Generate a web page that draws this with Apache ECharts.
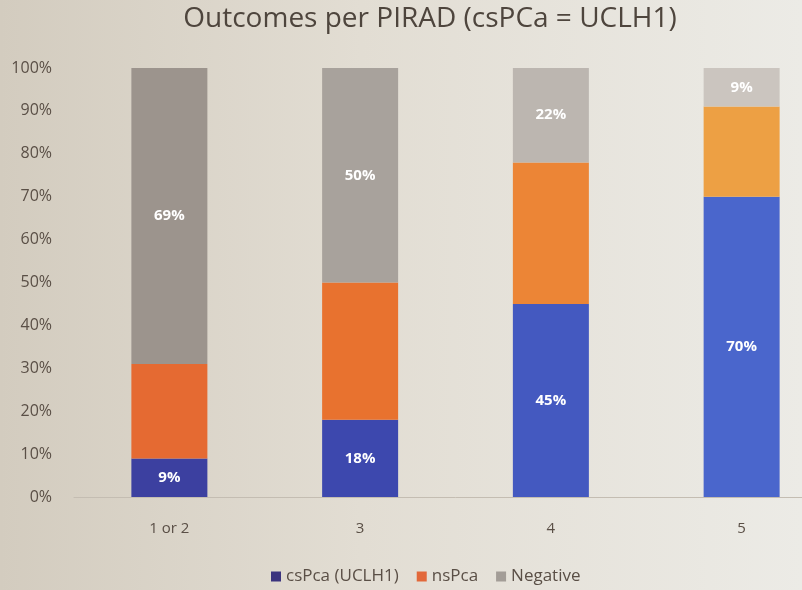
<!DOCTYPE html>
<html>
<head>
<meta charset="utf-8">
<script src="https://cdn.jsdelivr.net/npm/echarts@6/dist/echarts.min.js"></script>
<style>
  html, body { margin: 0; padding: 0; overflow: hidden; }
  body {
    width: 802px; height: 590px;
    background: linear-gradient(90deg, #d3ccbf 0%, #e2ddd3 45%, #ecebe6 100%);
  }
  /* the photo crops the slide on the right, so the chart is wider than the window */
  #chart { width: 840px; height: 590px; }
</style>
</head>
<body>
<div id="chart"></div>
<script>
// PIRAD groups
const categories = ['1 or 2', '3', '4', '5']
// percentages per outcome
const csPca = [9, 18, 45, 70]
const nsPca = [22, 32, 33, 21]
const negative = [69, 50, 22, 9]

// lighting in the photo: bars get lighter to the right
const blueShades = ['#3c40a0', '#3d48ae', '#4459c0', '#4a66cc']
const orangeShades = ['#e56a32', '#e8722f', '#ec8536', '#eda044']
const grayShades = ['#9c948d', '#a8a29c', '#bcb6b0', '#cbc5bf']

const chart = echarts.init(document.getElementById('chart'))

const labelOpt = {
  show: true,
  color: '#fff',
  fontWeight: 'bold',
  fontSize: 15,
  fontFamily: 'Open Sans',
  formatter: p => p.value + '%'
}

const option = {
  textStyle: { fontFamily: 'Open Sans', color: '#5a4f46' },
  title: {
    text: 'Outcomes per PIRAD (csPCa = UCLH1)',
    left: 425,
    textAlign: 'center',
    top: 0,
    textStyle: { fontSize: 28, fontWeight: 'normal', color: '#4e453d', fontFamily: 'Open Sans' }
  },
  legend: {
    bottom: 0,
    left: 266,
    itemWidth: 10,
    itemHeight: 10,
    itemGap: 18,
    icon: 'rect',
    textStyle: { fontSize: 17, color: '#5a4f46' },
    data: ['csPca (UCLH1)', 'nsPca', 'Negative']
  },
  grid: {
    left: 74,
    right: 3,
    top: 68,
    bottom: 93
  },
  xAxis: {
    type: 'category',
    data: categories,
    axisTick: { show: false },
    axisLine: { lineStyle: { color: '#c4bdb2' } },
    axisLabel: { fontSize: 15, color: '#5a4f46', margin: 24 }
  },
  yAxis: {
    type: 'value',
    min: 0,
    max: 100,
    interval: 10,
    splitLine: { show: false },
    axisLabel: { formatter: '{value}%', fontSize: 16, color: '#5a4f46', margin: 22 }
  },
  series: [
    {
      name: 'csPca (UCLH1)',
      type: 'bar',
      stack: 'total',
      barWidth: 76,
      itemStyle: { color: '#3b337e' },
      label: labelOpt,
      data: csPca.map((v, i) => ({ value: v, itemStyle: { color: blueShades[i] } }))
    },
    {
      name: 'nsPca',
      type: 'bar',
      stack: 'total',
      itemStyle: { color: '#e2683a' },
      data: nsPca.map((v, i) => ({ value: v, itemStyle: { color: orangeShades[i] } }))
    },
    {
      name: 'Negative',
      type: 'bar',
      stack: 'total',
      itemStyle: { color: '#a39d97' },
      label: labelOpt,
      data: negative.map((v, i) => ({ value: v, itemStyle: { color: grayShades[i] } }))
    }
  ]
}

chart.setOption(option)
</script>
</body>
</html>
